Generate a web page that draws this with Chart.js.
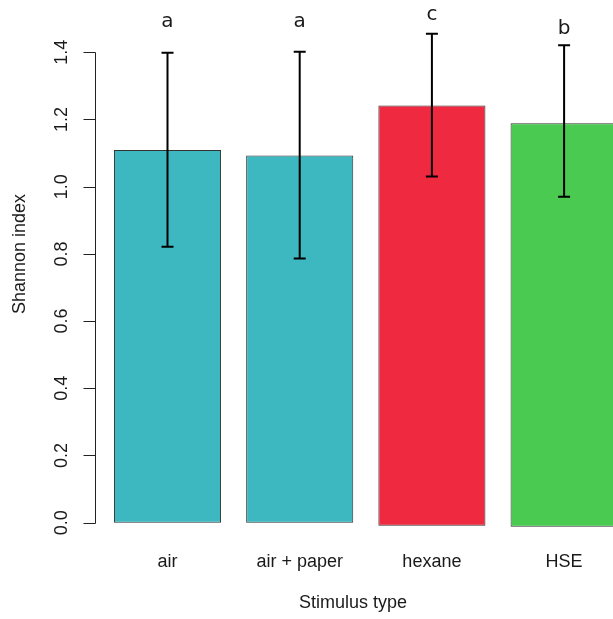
<!DOCTYPE html>
<html>
<head>
<meta charset="utf-8">
<script src="https://cdn.jsdelivr.net/npm/chart.js@4/dist/chart.umd.min.js"></script>
<style>
html,body{margin:0;padding:0;background:#fff;overflow:hidden;}
#wrap{width:650px;height:619px;}
</style>
</head>
<body>
<div id="wrap"><canvas id="c" width="650" height="619"></canvas></div>
<script>
// ---- data ----
const categories = ['air', 'air + paper', 'hexane', 'HSE'];
const means      = [1.109, 1.093, 1.242, 1.189];
const bases      = [0, 0, -0.009, -0.012];
const errUpper   = [1.399, 1.402, 1.455, 1.421];
const errLower   = [0.821, 0.786, 1.030, 0.970];
const sigLetters = ['a', 'a', 'c', 'b'];
const letterPos  = [1.491, 1.491, 1.511, 1.471];
const yTicks     = [0, 0.2, 0.4, 0.6, 0.8, 1.0, 1.2, 1.4];
const barColors  = ['#3db8c1', '#3db8c1', '#ee2940', '#4aca50'];
const yTitle = 'Shannon index';
const xTitle = 'Stimulus type';

const axisFont = '18px "Liberation Sans", Arial, sans-serif';
const textColor = '#1a1a1a';

const decorations = {
  id: 'decorations',
  afterDatasetsDraw(chart) {
    const ctx = chart.ctx;
    const ys = chart.scales.y;
    const meta = chart.getDatasetMeta(0);
    ctx.save();
    // error bars
    ctx.strokeStyle = '#000';
    ctx.lineWidth = 2;
    meta.data.forEach((bar, i) => {
      const x = bar.x;
      const yt = ys.getPixelForValue(errUpper[i]);
      const yb = ys.getPixelForValue(errLower[i]);
      ctx.beginPath();
      ctx.moveTo(x, yt); ctx.lineTo(x, yb);
      ctx.moveTo(x - 6, yt); ctx.lineTo(x + 6, yt);
      ctx.moveTo(x - 6, yb); ctx.lineTo(x + 6, yb);
      ctx.stroke();
    });
    // significance letters
    ctx.fillStyle = textColor;
    ctx.font = '20px "DejaVu Sans", sans-serif';
    ctx.textAlign = 'center';
    ctx.textBaseline = 'middle';
    meta.data.forEach((bar, i) => {
      ctx.fillText(sigLetters[i], bar.x, ys.getPixelForValue(letterPos[i]));
    });
    // y axis line + ticks + labels
    const ax = Math.round(chart.chartArea.left - 6.5) + 0.5;
    ctx.strokeStyle = '#222';
    ctx.lineWidth = 1;
    ctx.beginPath();
    ctx.moveTo(ax, Math.round(ys.getPixelForValue(yTicks[0])) + 0.5);
    ctx.lineTo(ax, Math.round(ys.getPixelForValue(yTicks[yTicks.length - 1])) + 0.5);
    ys.ticks.forEach(t => {
      const py = Math.round(ys.getPixelForValue(t.value)) + 0.5;
      ctx.moveTo(ax - 12, py); ctx.lineTo(ax, py);
    });
    ctx.stroke();
    ctx.font = axisFont;
    ctx.fillStyle = textColor;
    ys.ticks.forEach(t => {
      const py = ys.getPixelForValue(t.value);
      ctx.save();
      ctx.translate(ax - 33, py);
      ctx.rotate(-Math.PI / 2);
      ctx.textAlign = 'center';
      ctx.textBaseline = 'middle';
      ctx.fillText(t.value.toFixed(1), 0, 0);
      ctx.restore();
    });
    // y title
    ctx.save();
    ctx.translate(20, 254);
    ctx.rotate(-Math.PI / 2);
    ctx.textAlign = 'center';
    ctx.textBaseline = 'middle';
    ctx.fillText(yTitle, 0, 0);
    ctx.restore();
    // x title
    ctx.textAlign = 'center';
    ctx.textBaseline = 'middle';
    ctx.fillText(xTitle, 353, 603);
    ctx.restore();
  }
};

new Chart(document.getElementById('c'), {
  type: 'bar',
  data: {
    labels: categories,
    datasets: [{
      data: means.map((m, i) => [bases[i], m]),
      backgroundColor: barColors,
      borderColor: '#333333',
      borderWidth: 1,
      borderSkipped: false,
      barPercentage: 0.81,
      categoryPercentage: 1.0
    }]
  },
  options: {
    responsive: false,
    devicePixelRatio: 1,
    animation: false,
    events: [],
    layout: { padding: { top: 1.9, right: 19.8, left: 0, bottom: 0 } },
    plugins: { legend: { display: false }, tooltip: { enabled: false } },
    scales: {
      x: {
        type: 'category',
        offset: true,
        grid: { display: false, drawTicks: false },
        border: { display: false },
        ticks: { font: { family: '"Liberation Sans", Arial, sans-serif', size: 18 }, color: textColor, padding: 22, maxRotation: 0, minRotation: 0 },
        afterFit: s => { s.height = 89.6; }
      },
      y: {
        type: 'linear',
        min: -0.02,
        max: 1.55,
        grid: { display: false, drawTicks: false },
        border: { display: false },
        ticks: { display: false },
        afterBuildTicks: s => { s.ticks = yTicks.map(v => ({ value: v })); },
        afterFit: s => { s.width = 101.4; }
      }
    }
  },
  plugins: [decorations]
});
</script>
</body>
</html>
